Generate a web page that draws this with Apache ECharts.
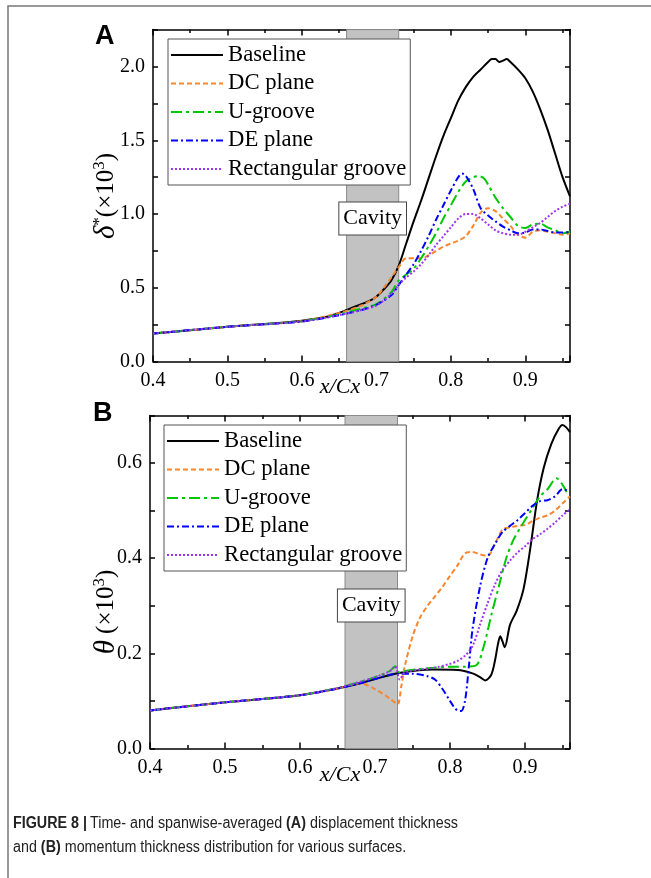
<!DOCTYPE html>
<html><head><meta charset="utf-8">
<script src="https://cdn.jsdelivr.net/npm/echarts@6/dist/echarts.min.js"></script>
<style>html,body{margin:0;padding:0;background:#fff}#c{width:651px;height:878px}</style>
</head><body><div id="c"></div>
<script>
const seriesNames = ['Baseline','DC plane','U-groove','DE plane','Rectangular groove'];
const cavityRange = [0.66, 0.73];
const xTickLabels = ['0.4','0.5','0.6','0.7','0.8','0.9'];
const yTickLabelsA = ['0.0','0.5','1.0','1.5','2.0'];
const yTickLabelsB = ['0.0','0.2','0.4','0.6'];

// ---- Panel A: displacement thickness ----
const aBaseX = [0.40,0.45,0.50,0.55,0.60,0.63,0.65,0.67,0.69,0.70,0.71,0.72,0.73,0.74,0.75,0.76,0.77,0.78,0.79,0.80,0.81,0.82,0.83,0.84,0.85,0.855,0.86,0.865,0.87,0.875,0.88,0.89,0.90,0.91,0.92,0.93,0.94,0.95,0.96];
const aBaseY = [0.19,0.213,0.236,0.255,0.277,0.30,0.33,0.37,0.41,0.44,0.49,0.55,0.65,0.80,0.95,1.09,1.24,1.39,1.53,1.65,1.77,1.86,1.93,1.98,2.03,2.05,2.05,2.03,2.04,2.05,2.03,1.98,1.92,1.83,1.71,1.57,1.41,1.25,1.12];
const aDcX = [0.40,0.50,0.60,0.65,0.68,0.70,0.71,0.72,0.73,0.74,0.75,0.76,0.77,0.78,0.79,0.80,0.81,0.82,0.83,0.84,0.85,0.86,0.87,0.88,0.89,0.90,0.91,0.92,0.93,0.94,0.95,0.96];
const aDcY = [0.19,0.236,0.275,0.33,0.38,0.44,0.50,0.57,0.64,0.70,0.70,0.70,0.72,0.75,0.78,0.80,0.82,0.85,0.92,1.01,1.04,1.02,0.97,0.92,0.86,0.84,0.88,0.89,0.88,0.87,0.86,0.87];
const aUgX = [0.40,0.50,0.60,0.65,0.68,0.70,0.72,0.73,0.74,0.75,0.76,0.77,0.78,0.79,0.80,0.81,0.82,0.83,0.837,0.845,0.85,0.86,0.87,0.88,0.89,0.90,0.91,0.92,0.93,0.94,0.95,0.96];
const aUgY = [0.19,0.236,0.274,0.32,0.36,0.39,0.47,0.55,0.59,0.63,0.70,0.78,0.87,0.97,1.06,1.15,1.22,1.25,1.257,1.24,1.20,1.11,1.04,0.98,0.92,0.905,0.93,0.935,0.91,0.89,0.87,0.88];
const aDeX = [0.40,0.50,0.60,0.65,0.68,0.70,0.72,0.73,0.74,0.75,0.76,0.77,0.78,0.79,0.80,0.81,0.815,0.82,0.83,0.84,0.85,0.86,0.87,0.88,0.89,0.90,0.91,0.92,0.93,0.94,0.95,0.96];
const aDeY = [0.19,0.236,0.272,0.315,0.35,0.385,0.45,0.52,0.59,0.66,0.75,0.85,0.96,1.06,1.16,1.25,1.275,1.26,1.17,1.04,0.99,0.95,0.915,0.89,0.87,0.875,0.895,0.895,0.885,0.875,0.875,0.88];
const aRgX = [0.40,0.50,0.60,0.65,0.68,0.70,0.72,0.73,0.74,0.75,0.76,0.77,0.78,0.79,0.80,0.81,0.82,0.83,0.84,0.85,0.86,0.87,0.88,0.89,0.90,0.91,0.92,0.93,0.94,0.95,0.96];
const aRgY = [0.19,0.236,0.272,0.315,0.35,0.38,0.46,0.52,0.57,0.61,0.66,0.72,0.79,0.85,0.91,0.97,1.00,1.00,0.97,0.93,0.89,0.87,0.86,0.86,0.88,0.91,0.94,0.98,1.02,1.05,1.07];

// ---- Panel B: momentum thickness ----
const bBaseX = [0.40,0.45,0.50,0.55,0.60,0.65,0.68,0.70,0.73,0.75,0.78,0.81,0.83,0.84,0.847,0.855,0.86,0.864,0.867,0.87,0.873,0.88,0.889,0.898,0.907,0.916,0.925,0.935,0.945,0.95,0.955,0.96];
const bBaseY = [0.080,0.089,0.097,0.104,0.112,0.126,0.137,0.146,0.158,0.163,0.166,0.165,0.158,0.150,0.143,0.155,0.185,0.22,0.236,0.225,0.213,0.26,0.29,0.335,0.42,0.52,0.59,0.64,0.672,0.68,0.675,0.665];
const bDcX = [0.40,0.50,0.60,0.65,0.68,0.70,0.72,0.73,0.735,0.74,0.75,0.76,0.77,0.78,0.79,0.80,0.81,0.82,0.83,0.84,0.85,0.86,0.87,0.88,0.89,0.90,0.91,0.92,0.93,0.94,0.95,0.96];
const bDcY = [0.080,0.097,0.112,0.126,0.137,0.125,0.105,0.093,0.13,0.175,0.235,0.275,0.30,0.32,0.34,0.363,0.385,0.41,0.413,0.408,0.405,0.43,0.46,0.465,0.468,0.47,0.478,0.485,0.49,0.50,0.515,0.53];
const bUgX = [0.40,0.50,0.60,0.65,0.68,0.70,0.72,0.727,0.732,0.74,0.76,0.78,0.80,0.82,0.835,0.845,0.855,0.865,0.875,0.885,0.898,0.91,0.92,0.93,0.942,0.951,0.958];
const bUgY = [0.080,0.097,0.112,0.127,0.14,0.15,0.163,0.173,0.16,0.163,0.167,0.17,0.172,0.172,0.175,0.215,0.28,0.34,0.40,0.44,0.475,0.505,0.53,0.545,0.568,0.552,0.531];
const bDeX = [0.40,0.50,0.60,0.65,0.68,0.70,0.73,0.75,0.77,0.78,0.79,0.80,0.805,0.81,0.815,0.82,0.825,0.83,0.84,0.85,0.86,0.87,0.88,0.89,0.90,0.91,0.92,0.93,0.94,0.95,0.96];
const bDeY = [0.080,0.097,0.112,0.126,0.137,0.146,0.157,0.157,0.152,0.145,0.125,0.10,0.088,0.08,0.079,0.10,0.17,0.25,0.34,0.40,0.43,0.455,0.468,0.48,0.495,0.51,0.52,0.522,0.53,0.545,0.54];
const bRgX = [0.40,0.50,0.60,0.65,0.68,0.70,0.72,0.727,0.733,0.74,0.76,0.78,0.80,0.81,0.82,0.83,0.84,0.85,0.86,0.87,0.88,0.89,0.90,0.91,0.92,0.93,0.94,0.95,0.96];
const bRgY = [0.080,0.097,0.112,0.127,0.14,0.15,0.163,0.173,0.145,0.16,0.166,0.17,0.178,0.184,0.195,0.215,0.26,0.305,0.345,0.375,0.395,0.412,0.425,0.44,0.45,0.462,0.475,0.49,0.503];

const SERIF = '"Liberation Serif","Times New Roman",serif';
const SANS = '"Liberation Sans",Arial,sans-serif';
const lineStyles = [
  {color:'#000000', type:'solid', width:2},
  {color:'#f7862f', type:[5,3], width:2},
  {color:'#00c800', type:[11,4,3,4], width:2},
  {color:'#0000ff', type:[7,3,2,3], width:2},
  {color:'#a035f0', type:[2,2], width:2}
];
const panelData = [
  [[aBaseX,aBaseY],[aDcX,aDcY],[aUgX,aUgY],[aDeX,aDeY],[aRgX,aRgY]],
  [[bBaseX,bBaseY],[bDcX,bDcY],[bUgX,bUgY],[bDeX,bDeY],[bRgX,bRgY]]
];
function pairs(xs, ys){ return xs.map((x,i)=>[x, ys[i]]); }
function fmt(labels){ return v => { const s = v.toFixed(1); return (labels.indexOf(s) >= 0 && Math.abs(v - parseFloat(s)) < 1e-6) ? s : ''; }; }

const grids = [
  {left:153, top:29.6, width:417, height:332},
  {left:150, top:415.5, width:420, height:333}
];
const yCfg = [
  {max:2.25, major:0.5, minor:0.25, labels:yTickLabelsA},
  {max:0.7, major:0.2, minor:0.1, labels:yTickLabelsB}
];

const xAxes = [], yAxes = [];
function axisBase(showLine, tickLen){
  return {
    axisLine:{show:showLine, onZero:false, lineStyle:{color:'#000', width:1.5}},
    axisTick:{show:true, inside:true, length:tickLen, lineStyle:{color:'#000', width:1.5}},
    splitLine:{show:false}, axisPointer:{show:false}
  };
}
for (let g=0; g<2; g++){
  [['bottom',true],['top',false]].forEach(([pos, lab]) => {
    xAxes.push(Object.assign({type:'value', gridIndex:g, position:pos, min:0.4, max:0.96, interval:0.1,
      axisLabel:{show:lab, margin:9, fontSize:20, color:'#000', fontFamily:SERIF, formatter:fmt(xTickLabels)}}, axisBase(true, 6)));
    xAxes.push(Object.assign({type:'value', gridIndex:g, position:pos, min:0.4, max:0.96, interval:0.05,
      axisLabel:{show:false}}, axisBase(false, 3.5)));
  });
  const c = yCfg[g];
  [['left',true],['right',false]].forEach(([pos, lab]) => {
    yAxes.push(Object.assign({type:'value', gridIndex:g, position:pos, min:0, max:c.max, interval:c.major,
      axisLabel:{show:lab, margin:8, fontSize:20, color:'#000', fontFamily:SERIF, formatter:fmt(c.labels)}}, axisBase(true, 5)));
    yAxes.push(Object.assign({type:'value', gridIndex:g, position:pos, min:0, max:c.max, interval:c.minor,
      axisLabel:{show:false}}, axisBase(false, 5)));
  });
}

const series = [];
const cavityLabelOffset = [173.4, 174.5];
for (let g=0; g<2; g++){
  series.push({
    type:'line', xAxisIndex:g*4, yAxisIndex:g*4, data:[], silent:true, z:1,
    markArea:{
      silent:true,
      itemStyle:{color:'#c2c2c2', borderColor:'#8c8c8c', borderWidth:1},
      label:{show:true, position:['50%', cavityLabelOffset[g]], align:'center', verticalAlign:'top',
        formatter:'Cavity', fontFamily:SERIF, fontSize:22, color:'#000', backgroundColor:'#fff',
        borderColor:'#444', borderWidth:1, padding:[5,4,5,4]},
      data:[[{xAxis:cavityRange[0]},{xAxis:cavityRange[1]}]]
    }
  });
  panelData[g].forEach((d, i) => {
    series.push({
      type:'line', name:seriesNames[i], xAxisIndex:g*4, yAxisIndex:g*4,
      data:pairs(d[0], d[1]), symbol:'none', showSymbol:false, smooth:0.3,
      lineStyle:lineStyles[i], itemStyle:{color:lineStyles[i].color}, z:3
    });
  });
}

function legend(left, top){
  return {data:seriesNames, orient:'vertical', left, top, itemWidth:52, itemHeight:14, itemGap:4.5,
    padding:[4,4,4,2], backgroundColor:'#fff', borderColor:'#555', borderWidth:1, selectedMode:false,
    itemStyle:{opacity:0},
    textStyle:{fontFamily:SERIF, fontSize:22.7, color:'#000', lineHeight:24}, z:10};
}

const yTitleRich = {
  i:{fontFamily:SERIF, fontStyle:'italic', fontSize:29, color:'#000'},
  s:{fontFamily:SERIF, fontSize:17, color:'#000', verticalAlign:'top', lineHeight:28},
  n:{fontFamily:SERIF, fontSize:25, color:'#000'}
};

const chart = echarts.init(document.getElementById('c'), null, {renderer:'canvas'});
chart.setOption({
  animation:false,
  backgroundColor:'#fff',
  grid:grids,
  xAxis:xAxes,
  yAxis:yAxes,
  legend:[legend(168,39), legend(164,425)],
  series,
  graphic:[
    {type:'polyline', shape:{points:[[8,878],[8,6],[651,6]]}, style:{stroke:'#777', lineWidth:1.5, fill:null}, silent:true},
    {type:'text', x:95, y:23, style:{text:'A', font:'bold 27px '+SANS, fill:'#000', verticalAlign:'top'}},
    {type:'text', x:93, y:400, style:{text:'B', font:'bold 27px '+SANS, fill:'#000', verticalAlign:'top'}},
    {type:'text', x:340, y:387, style:{text:'x/Cx', font:'italic 22px '+SERIF, fill:'#000', align:'center', verticalAlign:'middle'}},
    {type:'text', x:340, y:775, style:{text:'x/Cx', font:'italic 22px '+SERIF, fill:'#000', align:'center', verticalAlign:'middle'}},
    {type:'text', x:106, y:196, rotation:Math.PI/2, style:{text:'{i|δ}{s|*}{n|(×10}{s|3}{n|)}', rich:yTitleRich, align:'center', verticalAlign:'middle'}},
    {type:'text', x:106, y:612, rotation:Math.PI/2, style:{text:'{i|θ}{n| (×10}{s|3}{n|)}', rich:yTitleRich, align:'center', verticalAlign:'middle'}},
    {type:'text', x:13, y:812, scaleX:0.895, style:{
      text:'{b|FIGURE 8 |} {n|Time- and spanwise-averaged }{b|(A)}{n| displacement thickness}\n{n|and }{b|(B)}{n| momentum thickness distribution for various surfaces.}',
      rich:{b:{fontFamily:SANS, fontWeight:'bold', fontSize:16, fill:'#222', lineHeight:24}, n:{fontFamily:SANS, fontSize:16, fill:'#222', lineHeight:24}},
      verticalAlign:'top'}}
  ]
});
</script></body></html>
